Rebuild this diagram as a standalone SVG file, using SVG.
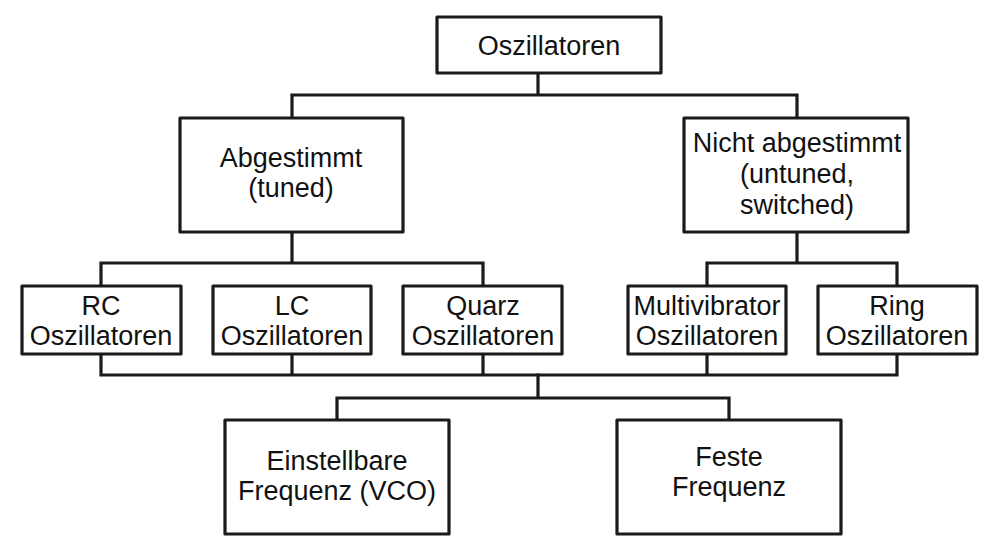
<svg xmlns="http://www.w3.org/2000/svg" width="995" height="558" viewBox="0 0 995 558">
<style>
.box{fill:#fff;stroke:#1a1a1a;stroke-width:3.2;stroke-linejoin:round}
.ln{fill:none;stroke:#1a1a1a;stroke-width:3.2;stroke-linejoin:miter;stroke-linecap:square}
text{font-family:"Liberation Sans",Arial,sans-serif;font-size:27px;fill:#111;text-anchor:middle}
</style>
<rect width="995" height="558" fill="#fff"/>
<g id="connectors">
<path class="ln" d="M538 73V95M292 118V95H797V118"/>
<path class="ln" d="M292 232V263M101 285V263H483V285"/>
<path class="ln" d="M797 232V263M707 285V263H897V285"/>
<path class="ln" d="M101 354V375H897V354M292 354V375M483 354V375M707 354V375"/>
<path class="ln" d="M538 375V398M337 420V398H729V420"/>
</g>
<g id="n-oszillatoren"><rect class="box" x="437" y="17" width="224" height="56"/><text x="549" y="55">Oszillatoren</text></g>
<g id="n-abgestimmt"><rect class="box" x="180" y="118" width="223" height="114"/><text x="291" y="167">Abgestimmt</text><text x="291" y="197">(tuned)</text></g>
<g id="n-nicht"><rect class="box" x="684" y="118" width="224" height="114"/><text x="797" y="152">Nicht abgestimmt</text><text x="797" y="183">(untuned,</text><text x="797" y="214">switched)</text></g>
<g id="n-rc"><rect class="box" x="22" y="286" width="159" height="68"/><text x="101" y="315">RC</text><text x="101" y="345">Oszillatoren</text></g>
<g id="n-lc"><rect class="box" x="213" y="286" width="158" height="68"/><text x="292" y="315">LC</text><text x="292" y="345">Oszillatoren</text></g>
<g id="n-quarz"><rect class="box" x="403" y="286" width="159" height="68"/><text x="483" y="315">Quarz</text><text x="483" y="345">Oszillatoren</text></g>
<g id="n-multi"><rect class="box" x="628" y="286" width="158" height="68"/><text x="707" y="315">Multivibrator</text><text x="707" y="345">Oszillatoren</text></g>
<g id="n-ring"><rect class="box" x="818" y="286" width="159" height="68"/><text x="897" y="315">Ring</text><text x="897" y="345">Oszillatoren</text></g>
<g id="n-vco"><rect class="box" x="225" y="420" width="224" height="114"/><text x="337" y="470">Einstellbare</text><text x="337" y="500">Frequenz (VCO)</text></g>
<g id="n-feste"><rect class="box" x="617" y="420" width="224" height="114"/><text x="729" y="466">Feste</text><text x="729" y="496">Frequenz</text></g>
</svg>
